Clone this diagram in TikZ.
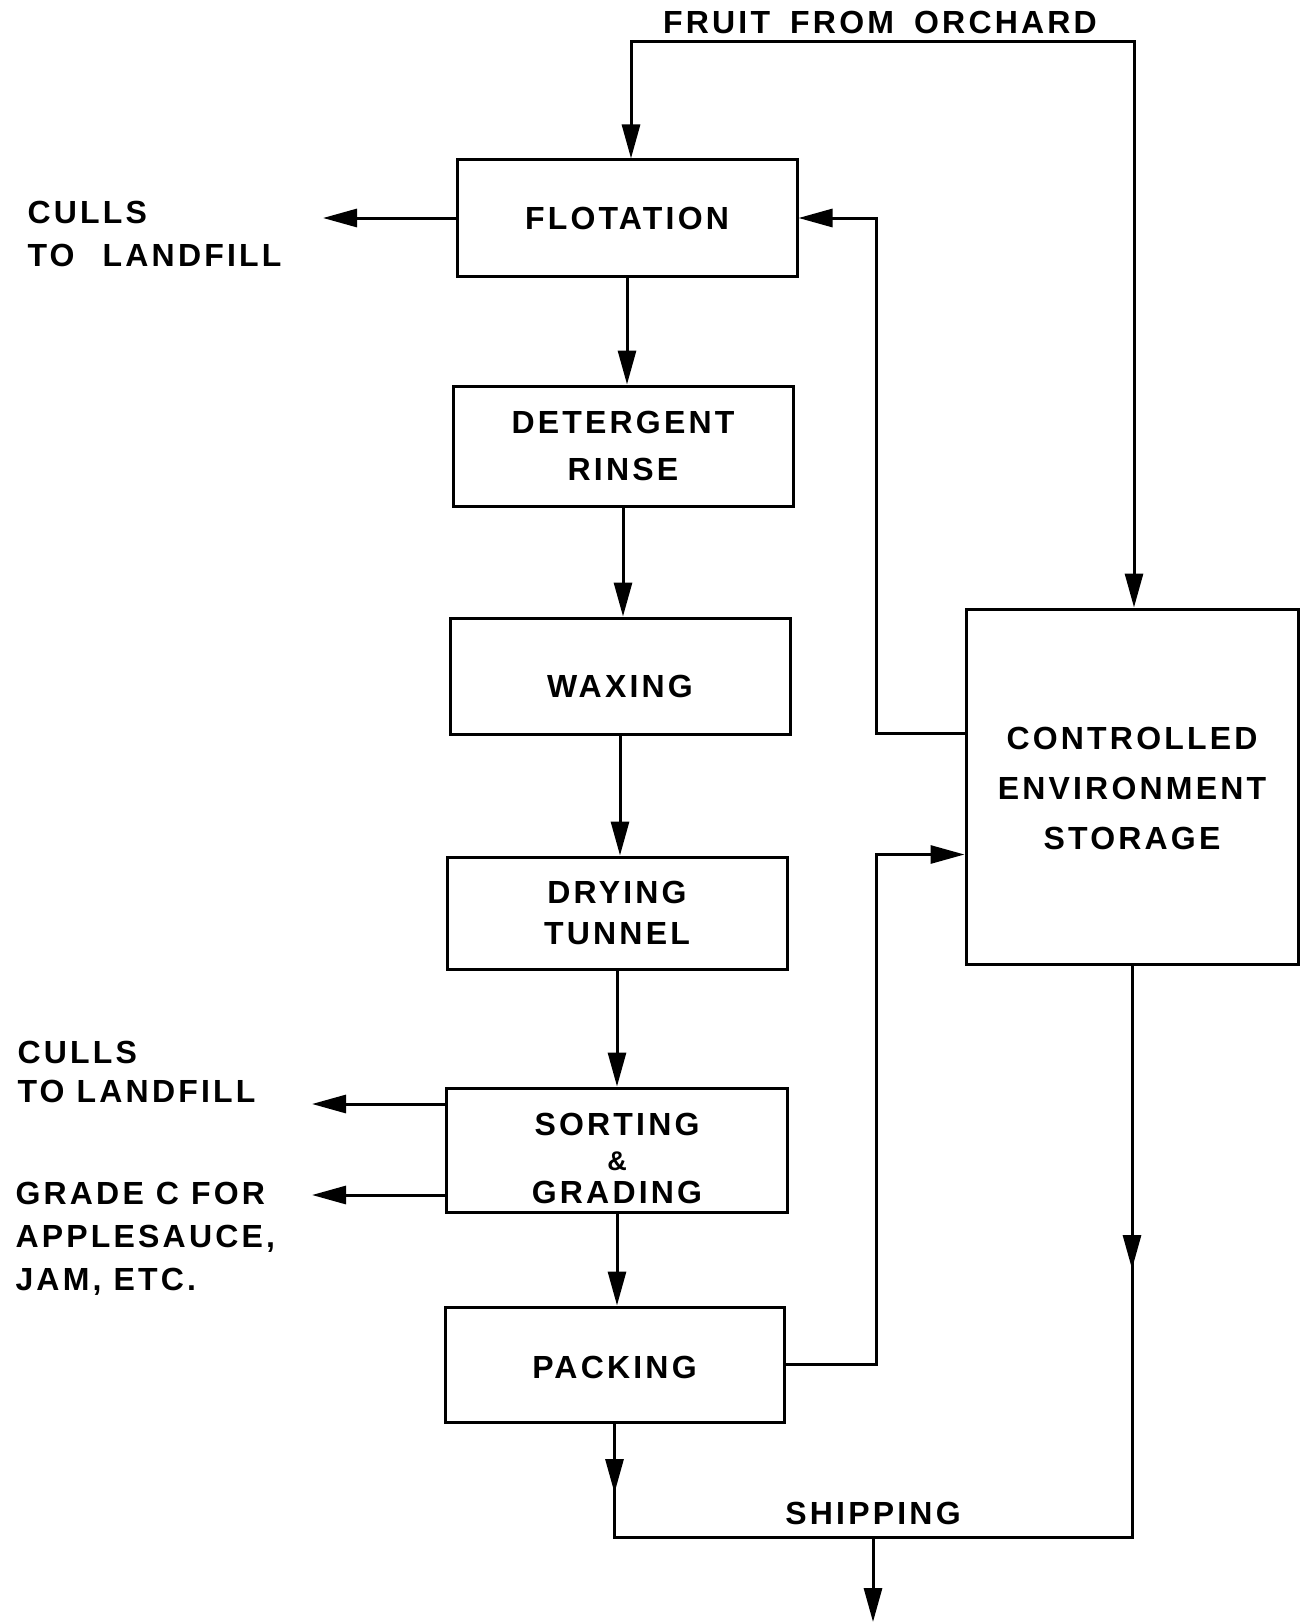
\documentclass[tikz,border=0pt]{standalone}
\usepackage{fontspec}
\newfontfamily\lf[LetterSpace=10]{Liberation Sans}
\usetikzlibrary{arrows.meta,calc}
\begin{document}
\begin{tikzpicture}[x=1pt,y=-1pt,
  every node/.style={font=\lf\bfseries\fontsize{32}{43}\selectfont},
  box/.style={draw, line width=3pt, minimum width=340pt, align=center, inner sep=0pt},
  ln/.style={line width=3pt, line join=miter},
  arr/.style={ln, -{Triangle[length=34pt,width=18pt]}}]
\useasboundingbox (0,0) rectangle (1305,1624);
% boxes
\node[box, minimum height=116pt] (flot) at (627,218) {FLOTATION};
\node[box, minimum height=120pt] (det) at (623,446) {DETERGENT\\[4pt]RINSE};
\node[box, minimum height=116pt] (wax) at (620,676) {\rule{0pt}{43pt}WAXING};
\node[box, minimum height=112pt] (dry) at (617,913) {DRYING\\[-2pt]TUNNEL};
\node[box, minimum height=124pt, minimum width=341pt] (sort) at (617,1150)
  {\rule{0pt}{40pt}SORTING\\[-8pt]{\fontsize{27}{27}\selectfont\&}\\[-10pt]GRADING};
\node[box, minimum height=115pt, minimum width=339pt] (pack) at (614.5,1364.5) {\rule{0pt}{29pt}PACKING};
\node[box, minimum width=332pt, minimum height=355pt] (stor) at (1132,786.5)
  {\rule{0pt}{26pt}CONTROLLED\\[7pt]ENVIRONMENT\\[7pt]STORAGE};
% labels
\node (orch) at (880,22) {FRUIT\hspace{8pt} FROM\hspace{8pt} ORCHARD};
\node (ship) at (873,1513) {SHIPPING};
\node[anchor=west, align=left] (c1) at (24,233.5) {CULLS\\TO\hspace{16pt} LANDFILL};
\node[anchor=west, align=left] (c2) at (14,1072) {CULLS\\[-4pt]TO LANDFILL};
\node[anchor=west, align=left] (gc) at (12,1239) {GRADE C FOR\\APPLESAUCE,\\JAM, ETC.};
% coordinates
\coordinate (otl) at (631,42);
\coordinate (otr) at (1134,42);
\coordinate (r1) at (876,0);
\coordinate (s1) at ($(stor.west)+(0,-53)$);
\coordinate (s2) at ($(stor.west)+(0,68)$);
\coordinate (cul1) at (323,0);
\coordinate (cul2) at (312,0);
\coordinate (so1) at ($(sort.west)+(0,-46)$);
\coordinate (so2) at ($(sort.west)+(0,45)$);
\coordinate (shipy) at (0,1537);
\coordinate (pm) at (0,1493);
\coordinate (sm) at (0,1269);
\coordinate (sj) at (873,1537);
\coordinate (bot) at (873,1622);
% connectors
\draw[arr] (otr) -- (otl) -- (otl |- flot.north);
\draw[arr] (otl) -- (otr) -- (otr |- stor.north);
\draw[arr] (flot.south) -- (flot.south |- det.north);
\draw[arr] (det.south) -- (det.south |- wax.north);
\draw[arr] (wax.south) -- (wax.south |- dry.north);
\draw[arr] (dry.south) -- (dry.south |- sort.north);
\draw[arr] (sort.south) -- (sort.south |- pack.north);
\draw[arr] (s1) -- (s1 -| r1) -- (r1 |- flot.east) -- (flot.east);
\draw[arr] (pack.east) -- (pack.east -| r1) -- (r1 |- s2) -- (s2);
\draw[arr] (flot.west) -- (flot.west -| cul1);
\draw[arr] (so1) -- (so1 -| cul2);
\draw[arr] (so2) -- (so2 -| cul2);
\draw[ln] (pack.south) -- (pack.south |- shipy) -- (stor.south |- shipy) -- (stor.south);
\draw[arr] (pack.south) -- (pack.south |- pm);
\draw[arr] (stor.south) -- (stor.south |- sm);
\draw[arr] (sj) -- (bot);
\end{tikzpicture}
\end{document}
